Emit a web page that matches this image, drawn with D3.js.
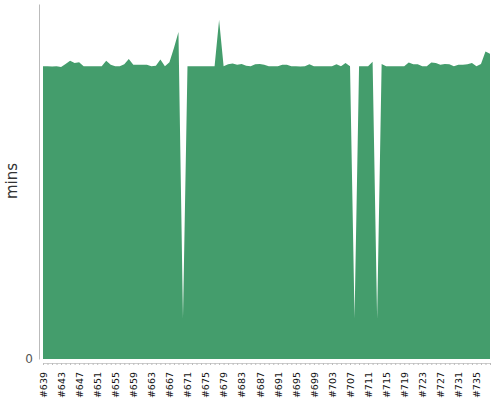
<!DOCTYPE html>
<html><head><meta charset="utf-8">
<script src="https://cdn.jsdelivr.net/npm/d3@7"></script>
<style>body{margin:0;background:#fff}svg{display:block}</style>
</head><body>
<svg id="c" width="500" height="400"></svg>
<script>
const builds = d3.range(639, 739).map(n => "#" + n);
const minutes = [
 66.0,66.0,65.9,66.0,65.8,66.5,67.2,66.7,66.9,66.0,
 66.0,66.0,66.0,66.0,67.2,66.3,66.0,66.0,66.4,67.6,
 66.3,66.3,66.3,66.3,66.0,66.1,67.5,66.0,66.9,70.1,
 73.7,9.2,66.0,66.0,66.0,66.0,66.0,66.0,66.0,76.4,
 66.0,66.4,66.6,66.3,66.5,66.1,66.0,66.4,66.5,66.3,
 66.0,66.0,66.0,66.3,66.3,66.0,66.0,65.9,66.0,66.4,
 66.0,66.0,66.0,66.0,66.0,66.4,66.0,66.7,66.0,9.2,
 66.0,66.0,66.0,67.0,9.2,66.5,66.0,66.0,66.0,66.0,
 66.0,66.8,66.4,66.4,66.0,66.0,66.8,66.7,66.3,66.5,
 66.4,66.0,66.3,66.3,66.4,66.7,66.0,66.5,69.3,68.8
];
const yTicks = [0];
const yLabel = "mins";

const svg = d3.select("#c");
const x = d3.scalePoint().domain(builds).range([43, 490]);
const y = d3.scaleLinear().domain([0, 80]).range([359, 4]);

const area = d3.area()
  .x((d, i) => x(builds[i]))
  .y0(y(0))
  .y1(d => y(d));
svg.append("path").datum(minutes).attr("d", area).attr("fill", "#449d6c");

// y axis
const ya = svg.append("g").attr("transform", "translate(39,0)")
  .call(d3.axisLeft(y).tickValues(yTicks).tickSize(0).tickPadding(6).tickSizeOuter(0));
ya.select(".domain").attr("stroke", "#bbb");
ya.selectAll("text").attr("font-family", "DejaVu Sans, sans-serif").attr("font-size", 12).attr("fill", "#555");

// x axis
const xa = svg.append("g").attr("transform", "translate(0,363)")
  .call(d3.axisBottom(x).tickSize(2).tickSizeOuter(0)
    .tickFormat((d, i) => i % 4 === 0 ? d : ""));
xa.select(".domain").attr("stroke", "#ccc");
xa.selectAll(".tick line").attr("stroke", "#bbb");
xa.selectAll("text")
  .attr("font-family", "DejaVu Sans, sans-serif")
  .attr("font-size", 9.5).attr("fill", "#111")
  .attr("transform", "rotate(-90)")
  .attr("text-anchor", "end")
  .attr("x", -9).attr("y", 0).attr("dy", "0.35em");

svg.append("text").attr("transform", "translate(17,181) rotate(-90)")
  .attr("text-anchor", "middle")
  .attr("font-family", "DejaVu Sans, sans-serif")
  .attr("font-size", 15).attr("fill", "#333").text(yLabel);
</script>
</body></html>
